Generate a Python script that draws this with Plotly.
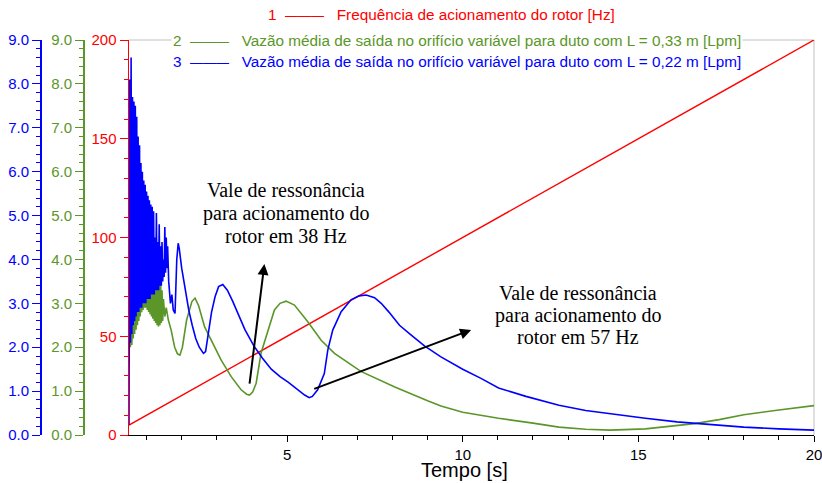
import plotly.graph_objects as go

# ---------------- data ----------------
t_freq = [0.5, 5.0, 10.0, 15.0, 20.0]
freq = [5.0, 50.0, 100.0, 150.0, 200.0]

t_blue = [0.50, 0.505, 0.52, 0.54, 0.56, 0.58, 0.60, 0.62, 0.64, 0.66, 0.68, 0.70, 0.72, 0.74,
          0.76, 0.78, 0.80, 0.82, 0.84, 0.86, 0.88, 0.90, 0.92, 0.94, 0.96, 0.98, 1.00, 1.02,
          1.04, 1.06, 1.08, 1.10, 1.12, 1.14, 1.16, 1.18, 1.20, 1.22, 1.24, 1.26, 1.28, 1.30,
          1.32, 1.34, 1.36, 1.38, 1.40, 1.42, 1.44, 1.46, 1.48, 1.50, 1.52, 1.54, 1.56, 1.58,
          1.60, 1.63, 1.68, 1.72, 1.76, 1.81, 1.86, 1.90, 1.93, 2.00, 2.10, 2.20, 2.30, 2.40,
          2.50, 2.62, 2.68, 2.75, 2.85, 2.95, 3.05, 3.17, 3.30, 3.45, 3.60, 3.80, 4.07, 4.30,
          4.55, 4.80, 5.02, 5.30, 5.50, 5.63, 5.72, 5.87, 6.06, 6.16, 6.30, 6.54, 6.82, 7.05,
          7.25, 7.49, 7.68, 7.90, 8.20, 8.50, 8.91, 9.38, 9.67, 10.00, 10.52, 11.02, 11.80, 12.74,
          13.50, 14.38, 15.20, 16.10, 17.00, 18.00, 19.00, 20.00]
q_blue = [0.23, 2.05, 8.1, 2.1, 8.6, 2.3, 7.7, 2.5, 7.6, 2.6, 7.5, 2.7, 7.25, 2.8,
          6.8, 2.8, 6.6, 2.9, 6.2, 2.9, 6.0, 3.0, 5.8, 3.0, 5.7, 3.0, 5.55, 3.1,
          5.45, 3.1, 5.35, 3.1, 5.25, 3.2, 5.2, 3.2, 5.1, 3.2, 4.5, 3.3, 5.06, 3.3,
          4.4, 3.3, 4.8, 3.4, 4.3, 3.4, 4.4, 3.5, 4.0, 3.6, 4.74, 3.7, 4.5, 3.8,
          4.3, 3.5, 3.0, 3.2, 2.85, 2.77, 4.0, 4.37, 4.25, 3.8, 3.3, 2.85, 2.5, 2.2,
          2.0, 1.86, 1.9, 2.3, 2.8, 3.15, 3.38, 3.43, 3.3, 3.05, 2.77, 2.4, 2.01, 1.75,
          1.5, 1.33, 1.21, 1.03, 0.91, 0.85, 0.88, 1.03, 1.4, 1.94, 2.39, 2.81, 3.08, 3.17,
          3.19, 3.13, 3.0, 2.8, 2.5, 2.3, 2.03, 1.78, 1.64, 1.5, 1.29, 1.07, 0.88, 0.68,
          0.56, 0.46, 0.38, 0.30, 0.24, 0.18, 0.14, 0.11]

t_green = [0.50, 0.505, 0.52, 0.54, 0.56, 0.58, 0.60, 0.62, 0.64, 0.66, 0.68, 0.70, 0.72, 0.74,
           0.76, 0.78, 0.80, 0.82, 0.84, 0.86, 0.88, 0.90, 0.92, 0.94, 0.96, 0.98, 1.00, 1.02,
           1.04, 1.06, 1.08, 1.10, 1.12, 1.14, 1.16, 1.18, 1.20, 1.22, 1.24, 1.26, 1.28, 1.30,
           1.32, 1.34, 1.36, 1.38, 1.40, 1.42, 1.44, 1.46, 1.48, 1.52, 1.56, 1.62, 1.70, 1.80,
           1.88, 1.95, 2.02, 2.14, 2.29, 2.38, 2.48, 2.65, 2.93, 3.12, 3.41, 3.69, 3.85, 3.93,
           4.02, 4.12, 4.26, 4.45, 4.64, 4.80, 4.97, 5.21, 5.59, 5.97, 6.35, 7.10, 8.05, 9.00,
           9.38, 10.00, 10.52, 11.02, 12.00, 12.74, 13.50, 14.20, 15.20, 16.00, 16.60, 17.30,
           18.00, 19.00, 20.00]
q_green = [1.64, 2.0, 2.6, 2.0, 2.7, 2.05, 2.8, 2.2, 2.9, 2.3, 3.0, 2.4, 3.1, 2.5,
           3.2, 2.6, 3.35, 2.7, 3.4, 2.8, 3.5, 2.85, 3.6, 2.9, 3.7, 2.9, 3.8, 2.85,
           3.85, 2.8, 3.95, 2.75, 3.99, 2.7, 3.9, 2.65, 3.85, 2.6, 3.76, 2.55, 3.8, 2.5,
           3.7, 2.47, 3.6, 2.5, 3.5, 2.55, 3.3, 2.6, 3.1, 2.7, 2.9, 2.62, 2.39, 2.0,
           1.85, 1.82, 2.0, 2.62, 3.04, 3.12, 2.95, 2.47, 2.01, 1.71, 1.33, 1.03, 0.93, 0.91,
           0.98, 1.18, 1.87, 2.39, 2.85, 3.0, 3.05, 2.96, 2.58, 2.16, 1.86, 1.45, 1.1, 0.78,
           0.66, 0.52, 0.44, 0.38, 0.27, 0.18, 0.13, 0.11, 0.14, 0.2, 0.26, 0.35,
           0.46, 0.57, 0.67]

legend_labels = [
    "Frequência de acionamento do rotor [Hz]",
    "Vazão média de saída no orifício variável para duto com L = 0,33 m [Lpm]",
    "Vazão média de saída no orifício variável para duto com L = 0,22 m [Lpm]",
]
note_38 = ["Vale de ressonância", "para acionamento do", "rotor em 38 Hz"]
note_57 = ["Vale de ressonância", "para acionamento do", "rotor em 57 Hz"]
x_title = "Tempo [s]"

# ---------------- style ----------------
RED = "#ff0000"
GREEN = "#5a9628"
BLUE = "#0000ff"
GRAY = "#c0c0c0"
SANS = "Liberation Sans, Arial, sans-serif"
SERIF = "Liberation Serif, Times New Roman, serif"

W, H = 822, 483
ML, MR, MT, MB = 0, 8, 40, 48
PW = W - ML - MR
PH = H - MT - MB
X0 = 129  # pixel of plot-area left edge


def px(x):
    return (x - ML) / PW


def py(y):
    return (H - MB - y) / PH


fig = go.Figure()
fig.add_trace(go.Scatter(x=t_blue, y=q_blue, mode="lines", yaxis="y3",
                         line=dict(color=BLUE, width=1.6), showlegend=False))
fig.add_trace(go.Scatter(x=t_green, y=q_green, mode="lines", yaxis="y2",
                         line=dict(color=GREEN, width=1.6), showlegend=False))
fig.add_trace(go.Scatter(x=t_freq, y=freq, mode="lines", yaxis="y",
                         line=dict(color=RED, width=1.4), showlegend=False))


def yax(color, rng, dtick, mdtick, fmt, **kw):
    d = dict(range=rng, dtick=dtick, tick0=0, tickformat=fmt, showgrid=False, zeroline=False,
             showline=True, linecolor=color, linewidth=1.5, ticks="outside", ticklen=8,
             tickwidth=1, tickcolor=color, tickfont=dict(family=SANS, size=15, color=color),
             minor=dict(dtick=mdtick, ticks="outside", ticklen=4, tickcolor=color, showgrid=False),
             fixedrange=True)
    d.update(kw)
    return d


fig.update_layout(
    width=W, height=H,
    margin=dict(l=ML, r=MR, t=MT, b=MB, pad=0),
    paper_bgcolor="white", plot_bgcolor="white",
    xaxis=dict(domain=[px(X0), 1], range=[0.5, 20], tick0=0, dtick=5, showgrid=False,
               zeroline=False, showline=True, linecolor="black", linewidth=1,
               ticks="outside", ticklen=6, tickcolor="black", ticklabeloverflow="allow",
               tickfont=dict(family=SANS, size=15, color="black"), fixedrange=True,
               minor=dict(dtick=1, ticks="outside", ticklen=4, tickcolor="black", showgrid=False)),
    yaxis=yax(RED, [0, 200], 50, 10, "d", anchor="x"),
    yaxis2=yax(GREEN, [0, 9], 1, 0.2, ".1f", overlaying="y", anchor="free",
               position=px(83), side="left"),
    yaxis3=yax(BLUE, [0, 9], 1, 0.2, ".1f", overlaying="y", anchor="free",
               position=px(40), side="left"),
    showlegend=False,
)

# frame (top and right borders)
fig.add_shape(type="line", xref="x domain", yref="y domain", x0=0, x1=1, y0=1, y1=1,
              line=dict(color=GRAY, width=1), layer="below")
fig.add_shape(type="line", xref="x domain", yref="y domain", x0=1, x1=1, y0=0, y1=1,
              line=dict(color=GRAY, width=1), layer="below")

# legend rows
NB = "\u00a0"
dash = "<span style='font-size:13px'>———</span>"
rows = [("1", legend_labels[0], RED, 266, 14, "rgba(0,0,0,0)"),
        ("2", legend_labels[1], GREEN, 171, 40, "white"),
        ("3", legend_labels[2], BLUE, 171, 62, "rgba(0,0,0,0)")]
for num, lab, col, x, y, bg in rows:
    fig.add_annotation(xref="paper", yref="paper", x=px(x), y=py(y), xanchor="left",
                       yanchor="middle", showarrow=False, bgcolor=bg, borderpad=1,
                       text=num + NB * 2 + dash + NB * 3 + lab,
                       font=dict(family=SANS, size=15.3, color=col))

# text notes
for i, line in enumerate(note_38):
    fig.add_annotation(xref="paper", yref="paper", x=px(286), y=py(190 + 23 * i),
                       text=line, showarrow=False, xanchor="center", yanchor="middle",
                       font=dict(family=SERIF, size=20, color="black"))
for i, line in enumerate(note_57):
    fig.add_annotation(xref="paper", yref="paper", x=px(578), y=py(293 + 22 * i),
                       text=line, showarrow=False, xanchor="center", yanchor="middle",
                       font=dict(family=SERIF, size=20, color="black"))

# arrows (head at x,y ; tail at ax,ay) in data units
arrows = [((4.354, 86.6), (3.927, 25.3)), ((10.24, 53.2), (5.73, 23.1))]
for (hx, hy), (tx, ty) in arrows:
    fig.add_annotation(x=hx, y=hy, ax=tx, ay=ty, xref="x", yref="y", axref="x", ayref="y",
                       text="", showarrow=True, arrowhead=2, arrowsize=1.1, arrowwidth=2,
                       arrowcolor="black", standoff=0)

fig.add_annotation(xref="paper", yref="paper", x=px(464), y=py(470), text=x_title,
                   showarrow=False, xanchor="center", yanchor="middle",
                   font=dict(family=SANS, size=20, color="black"))

fig.write_html("out.html", config={"displayModeBar": False, "staticPlot": True},
               post_script="document.body.style.margin='0';document.body.style.overflow='hidden';")
